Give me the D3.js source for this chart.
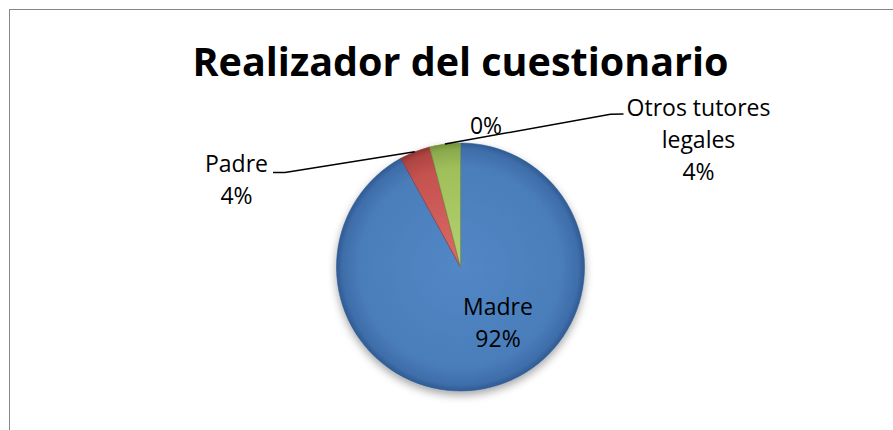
<!DOCTYPE html>
<html>
<head>
<meta charset="utf-8">
<script src="https://cdn.jsdelivr.net/npm/d3@7"></script>
<style>
  html, body { margin: 0; padding: 0; background: #fff; }
  svg { display: block; font-family: "Open Sans", "DejaVu Sans", sans-serif; }
</style>
</head>
<body>
<div id="piechart"></div>
<script>
"use strict";

// data
const categories = ["Madre", "Padre", "", "Otros tutores legales"];
const labelLines = [["Madre"], ["Padre"], [], ["Otros tutores", "legales"]];
const values = [92, 4, 0, 4];
const chartTitle = "Realizador del cuestionario";

const width = 893, height = 430;
const cx = 460.5, cy = 267, radius = 124;

const svg = d3.select("#piechart")
  .append("svg")
  .attr("width", width)
  .attr("height", height);

// chart area border (cut off on the right and bottom)
svg.append("rect")
  .attr("x", 9.5).attr("y", 9.5)
  .attr("width", width + 20).attr("height", height + 20)
  .attr("fill", "#fff")
  .attr("stroke", "#878787")
  .attr("stroke-width", 1);

// gradients and shadow
const defs = svg.append("defs");
const shades = [
  ["#5287c5", "#4a7ebb", "#3f6eaa", "#2f5b93"],
  ["#dc6b67", "#c4524f", "#ad4542", "#8f3432"],
  ["#b4d370", "#9fbf5b", "#8aa94c", "#72903a"],
  ["#b4d370", "#9fbf5b", "#8aa94c", "#72903a"]
];
shades.forEach(function(s, i) {
  const g = defs.append("radialGradient")
    .attr("id", "grad" + i)
    .attr("gradientUnits", "userSpaceOnUse")
    .attr("cx", 0).attr("cy", 0).attr("r", radius);
  g.append("stop").attr("offset", "0%").attr("stop-color", s[0]);
  g.append("stop").attr("offset", "80%").attr("stop-color", s[1]);
  g.append("stop").attr("offset", "95%").attr("stop-color", s[2]);
  g.append("stop").attr("offset", "100%").attr("stop-color", s[3]);
});
const shadow = defs.append("filter").attr("id", "shadow")
  .attr("x", "-20%").attr("y", "-20%").attr("width", "140%").attr("height", "140%");
shadow.append("feDropShadow")
  .attr("dx", 0).attr("dy", 4).attr("stdDeviation", 4)
  .attr("flood-color", "#000").attr("flood-opacity", 0.35);

// title
const title = svg.append("text")
  .attr("x", cx)
  .attr("y", 76)
  .attr("text-anchor", "middle")
  .attr("font-weight", 700)
  .attr("font-size", 48)
  .attr("fill", "#000")
  .text(chartTitle);
// fit title to the width it has in the picture
const tLen = title.node().getComputedTextLength();
title.attr("font-size", 48 * 536 / tLen);

// pie
const pie = d3.pie().sort(null).value(d => d)(values);
const arc = d3.arc().innerRadius(0).outerRadius(radius);
const outerPoint = d3.arc().innerRadius(radius).outerRadius(radius);

const g = svg.append("g").attr("transform", `translate(${cx},${cy})`);

g.append("g")
  .attr("filter", "url(#shadow)")
  .selectAll("path")
  .data(pie)
  .join("path")
  .attr("d", arc)
  .attr("fill", (d, i) => `url(#grad${i})`)
  .attr("stroke", (d, i) => shades[i][3])
  .attr("stroke-width", 0.6)
  .attr("stroke-opacity", d => d.value > 0 ? 1 : 0);

// labels: offsets from pie centre for each label block, plus leader line elbows
const labelPos = [
  { x: 37.5, y: 48, anchor: "middle", elbow: null },
  { x: -224, y: -95, anchor: "middle", elbow: [[-175.5, -94.5], [-187.5, -94.5]] },
  { x: 25.5, y: -133, anchor: "middle", elbow: null },
  { x: 238, y: -151, anchor: "middle", elbow: [[150, -152.7], [163, -153]] }
];
const lineH = 32;

pie.forEach(function(d, i) {
  const p = labelPos[i];
  const lines = labelLines[i].concat([d3.format(".0%")(d.value / d3.sum(values))]);
  const t = g.append("text")
    .attr("text-anchor", p.anchor)
    .attr("font-size", 23)
    .attr("fill", "#000");
  lines.forEach(function(l, k) {
    t.append("tspan").attr("x", p.x).attr("y", p.y + k * lineH).text(l);
  });
  if (p.elbow) {
    const start = outerPoint.centroid(d);
    g.append("polyline")
      .attr("points", [start].concat(p.elbow).map(q => q.join(",")).join(" "))
      .attr("fill", "none")
      .attr("stroke", "#000")
      .attr("stroke-width", 1.5);
  }
});
</script>
</body>
</html>
